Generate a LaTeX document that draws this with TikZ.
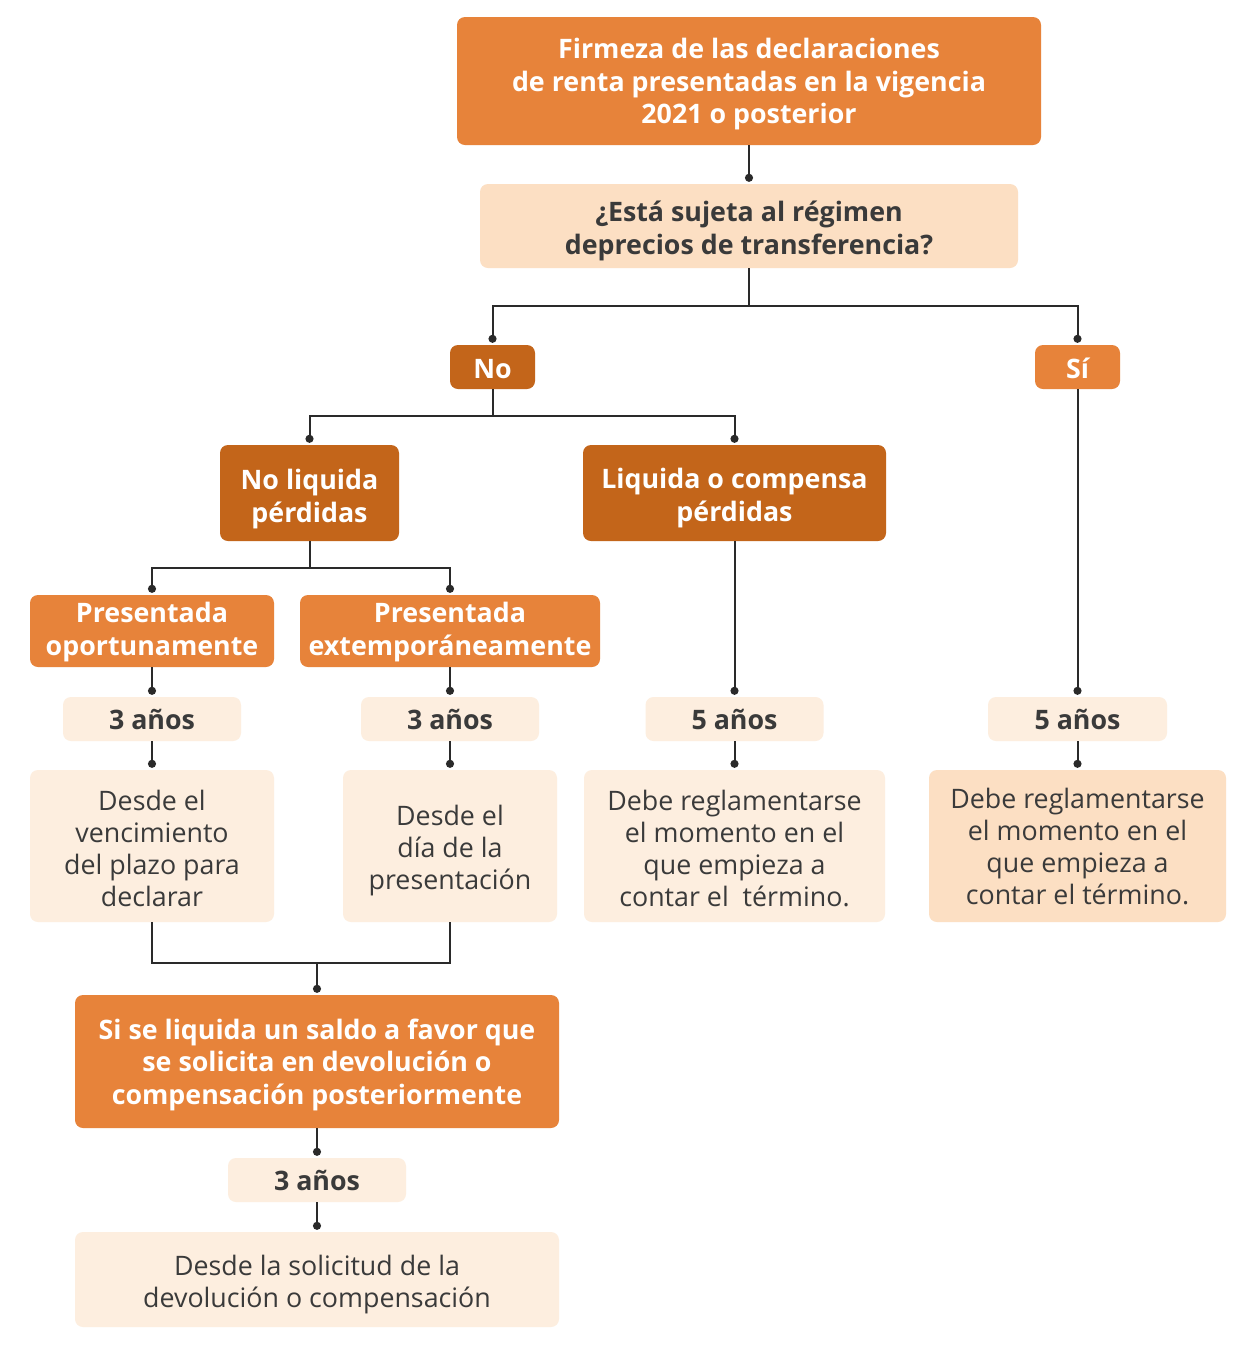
\documentclass[tikz,border=0pt]{standalone}
\usepackage{fontspec}
\setmainfont{Open Sans}
\usetikzlibrary{arrows.meta}
\definecolor{orA}{HTML}{E7833A}
\definecolor{orB}{HTML}{C3651A}
\definecolor{peach}{HTML}{FCDFC3}
\definecolor{cream}{HTML}{FDEEDF}
\definecolor{ink}{HTML}{3A3A3A}
\definecolor{wire}{HTML}{2A2A2A}
\newcommand{\txtdown}[1]{\rule{0pt}{#1pt}}
\begin{document}
\begin{tikzpicture}[x=1pt,y=-1pt,
  box/.style={rounded corners=8pt, align=center, inner sep=0pt},
  bold/.style={font=\bfseries\fontsize{26.8}{32.5}\selectfont},
  reg/.style={font=\fontsize{26.8}{32}\selectfont},
  orbox/.style={box, bold, fill=orA, text=white},
  darkbox/.style={box, bold, fill=orB, text=white},
  qbox/.style={box, bold, fill=peach, text=ink},
  yearbox/.style={box, bold, fill=cream, text=ink},
  descbox/.style={box, reg, fill=cream, text=ink},
  peachdesc/.style={box, reg, fill=peach, text=ink},
  wireline/.style={draw=wire, line width=2pt},
  con/.style={wireline, -{Circle[length=8pt]}}
]
\fill[white] (0,0) rectangle (1256,1345);
\useasboundingbox (0,0) rectangle (1256,1345);

\node[orbox, minimum width=584, minimum height=128] (top) at (749,81)
  {\txtdown{26.5}Firmeza de las declaraciones\\de renta presentadas en la vigencia\\2021 o posterior};
\node[qbox, minimum width=538, minimum height=84] (q) at (749,226)
  {\txtdown{30.6}¿Está sujeta al régimen\\deprecios de transferencia?};
\node[darkbox, minimum width=85, minimum height=44] (no) at (492.5,367) {\txtdown{23}No};
\node[orbox, minimum width=85, minimum height=44] (si) at (1077.5,367) {\txtdown{23}Sí};
\node[darkbox, minimum width=179, minimum height=96] (nl) at (309.5,493) {\txtdown{32}No liquida\\pérdidas};
\node[darkbox, minimum width=303, minimum height=96] (lc) at (734.5,493) {\txtdown{30.4}Liquida o compensa\\pérdidas};
\node[orbox, minimum width=244, minimum height=72] (po) at (152,631) {\txtdown{22.4}Presentada\\oportunamente};
\node[orbox, minimum width=300, minimum height=72] (pe) at (450,631) {\txtdown{22.4}Presentada\\extemporáneamente};
\node[yearbox, minimum width=178, minimum height=44] (a1) at (152,719) {\txtdown{22}3 años};
\node[yearbox, minimum width=178, minimum height=44] (a2) at (450,719) {\txtdown{22}3 años};
\node[yearbox, minimum width=178, minimum height=44] (a3) at (734.5,719) {\txtdown{22}5 años};
\node[yearbox, minimum width=179, minimum height=44] (a4) at (1077.5,719) {\txtdown{22}5 años};
\node[descbox, minimum width=244, minimum height=152] (d1) at (152,846)
  {\txtdown{24.4}Desde el\\vencimiento\\del plazo para\\declarar};
\node[descbox, minimum width=214, minimum height=152] (d2) at (450,846)
  {\txtdown{29.4}Desde el\\día de la\\presentación};
\node[descbox, minimum width=301, minimum height=152] (d3) at (734.5,846)
  {\txtdown{25.4}Debe reglamentarse\\el momento en el\\que empieza a\\contar el\ \ término.};
\node[peachdesc, minimum width=297, minimum height=152] (d4) at (1077.5,846)
  {Debe reglamentarse\\el momento en el\\que empieza a\\contar el término.};
\node[orbox, minimum width=484, minimum height=133] (sal) at (317,1061.5)
  {\txtdown{27.4}Si se liquida un saldo a favor que\\se solicita en devolución o\\compensación posteriormente};
\node[yearbox, minimum width=178, minimum height=44] (a5) at (317,1180) {\txtdown{22}3 años};
\node[descbox, minimum width=484, minimum height=95] (d5) at (317,1279.5)
  {\txtdown{30.4}Desde la solicitud de la\\devolución o compensación};

\draw[con] (top.south) -- ([yshift=2pt]q.north);
\draw[con] (q.south) -- ++(0,38) -| ([yshift=2pt]no.north);
\draw[con] (q.south) -- ++(0,38) -| ([yshift=2pt]si.north);
\draw[con] (no.south) -- ++(0,27) -| ([yshift=2pt]nl.north);
\draw[con] (no.south) -- ++(0,27) -| ([yshift=2pt]lc.north);
\draw[con] (nl.south) -- ++(0,27) -| ([yshift=2pt]po.north);
\draw[con] (nl.south) -- ++(0,27) -| ([yshift=2pt]pe.north);
\draw[con] (po.south) -- ([yshift=2pt]a1.north);
\draw[con] (pe.south) -- ([yshift=2pt]a2.north);
\draw[con] (lc.south) -- ([yshift=2pt]a3.north);
\draw[con] (si.south) -- ([yshift=2pt]a4.north);
\draw[con] (a1.south) -- ([yshift=2pt]d1.north);
\draw[con] (a2.south) -- ([yshift=2pt]d2.north);
\draw[con] (a3.south) -- ([yshift=2pt]d3.north);
\draw[con] (a4.south) -- ([yshift=2pt]d4.north);
\draw[wireline] (d1.south) -- ++(0,41) -| (d2.south);
\coordinate (merge) at (317,963);
\draw[con] (merge) -- ([yshift=2pt]sal.north);
\draw[con] (sal.south) -- ([yshift=2pt]a5.north);
\draw[con] (a5.south) -- ([yshift=2pt]d5.north);
\end{tikzpicture}
\end{document}
